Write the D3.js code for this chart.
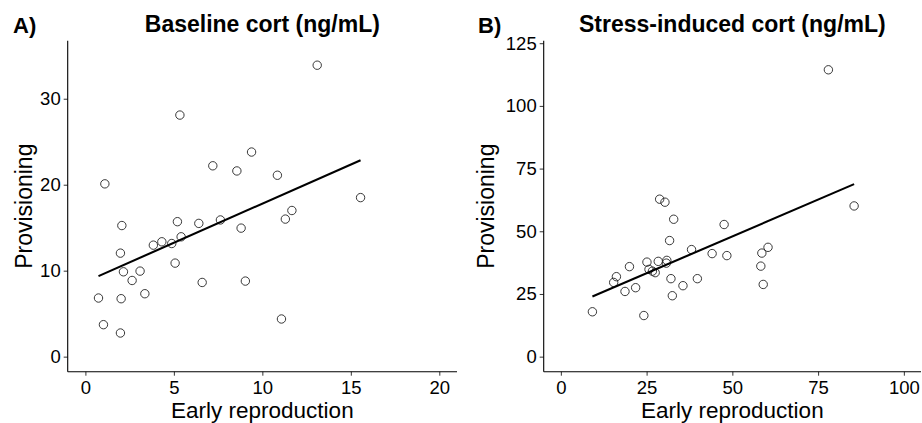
<!DOCTYPE html>
<meta charset="utf-8">
<head>
<script src="https://cdn.jsdelivr.net/npm/d3@7"></script>
<style>
body { margin: 0; background: #fff; }
svg text { font-family: "Liberation Sans", Arial, Helvetica, sans-serif; fill: #000; }
</style>
</head>
<body>
<div id="chart"></div>
<script>

// panel A: baseline cort
var baseX = [13.1, 5.34, 1.1, 7.2, 8.56, 9.39, 10.85, 15.55, 11.67, 11.3, 2.06, 5.2, 6.41, 7.63, 8.8, 5.41,
             3.84, 4.32, 4.88, 1.98, 5.07, 2.15, 3.09, 2.64, 6.6, 9.04, 0.74, 2.02, 3.36, 1.02, 1.98, 11.08];
var baseY = [33.9, 28.1, 20.1, 22.2, 21.6, 23.8, 21.1, 18.5, 17.0, 16.0, 15.25, 15.7, 15.5, 15.9, 14.95, 13.94,
             12.97, 13.36, 13.16, 12.04, 10.88, 9.87, 9.95, 8.86, 8.63, 8.79, 6.82, 6.74, 7.32, 3.72, 2.75, 4.38];
var baseFit = [[0.74, 9.37], [15.55, 22.85]];

// panel B: stress-induced cort
var stressX = [78.0, 28.8, 30.35, 85.5, 32.9, 47.6, 31.7, 38.1, 44.1, 48.4, 58.6, 60.4, 58.3, 59.0, 25.1, 28.4,
               30.9, 30.75, 20.0, 25.7, 26.7, 27.5, 16.2, 15.4, 18.7, 21.8, 32.1, 39.8, 35.6, 32.5, 9.2, 24.2];
var stressY = [114.4, 62.8, 61.6, 60.1, 54.8, 52.7, 46.3, 42.7, 41.1, 40.3, 41.3, 43.6, 36.1, 28.8, 37.7, 38.0,
               38.4, 37.3, 35.9, 34.8, 34.1, 33.5, 31.9, 29.6, 26.0, 27.5, 31.1, 31.1, 28.3, 24.3, 17.9, 16.4];
var stressFit = [[9.2, 24.0], [85.5, 68.8]];

var xTicksA = [0, 5, 10, 15, 20];
var yTicksA = [0, 10, 20, 30];
var xTicksB = [0, 25, 50, 75, 100];
var yTicksB = [0, 25, 50, 75, 100, 125];

var width = 922, height = 423;
var top_ = 40.7, bottom = 371.7;

var panels = [
  {tag: 'A)', title: 'Baseline cort (ng/mL)', xs: baseX, ys: baseY, fit: baseFit,
   xDom: [-1, 21], yDom: [-1.75, 36.75], xTicks: xTicksA, yTicks: yTicksA,
   left: 67.7, right: 457, tagX: 13, yTitleX: 31.5},
  {tag: 'B)', title: 'Stress-induced cort (ng/mL)', xs: stressX, ys: stressY, fit: stressFit,
   xDom: [-5, 105], yDom: [-6, 126], xTicks: xTicksB, yTicks: yTicksB,
   left: 543.7, right: 921, tagX: 478, yTitleX: 494.3}
];

var svg = d3.select('#chart').append('svg')
    .attr('width', width)
    .attr('height', height);

panels.forEach(function(p) {
  var x = d3.scaleLinear().domain(p.xDom).range([p.left, p.right]);
  var y = d3.scaleLinear().domain(p.yDom).range([bottom, top_]);
  var g = svg.append('g');

  // axes
  var xAxis = g.append('g')
      .attr('transform', 'translate(0,' + bottom + ')')
      .call(d3.axisBottom(x).tickValues(p.xTicks).tickSize(4).tickPadding(5).tickFormat(d3.format('d')));
  var yAxis = g.append('g')
      .attr('transform', 'translate(' + p.left + ',0)')
      .call(d3.axisLeft(y).tickValues(p.yTicks).tickSize(4).tickPadding(3).tickFormat(d3.format('d')));

  [xAxis, yAxis].forEach(function(a) {
    a.select('.domain').remove();
    a.selectAll('.tick line').attr('stroke', '#333').attr('stroke-width', 1);
    a.selectAll('.tick text').style('font-size', '18.5px').attr('fill', '#111');
  });

  g.append('line')
      .attr('x1', p.left).attr('x2', p.right)
      .attr('y1', bottom).attr('y2', bottom)
      .attr('stroke', '#000').attr('stroke-width', 1.1);
  g.append('line')
      .attr('x1', p.left).attr('x2', p.left)
      .attr('y1', top_).attr('y2', bottom)
      .attr('stroke', '#000').attr('stroke-width', 1.1);

  // points
  g.selectAll('circle.pt')
      .data(d3.range(p.xs.length))
      .enter().append('circle')
      .attr('class', 'pt')
      .attr('cx', function(i) { return x(p.xs[i]); })
      .attr('cy', function(i) { return y(p.ys[i]); })
      .attr('r', 4.2)
      .attr('fill', 'none')
      .attr('stroke', '#222')
      .attr('stroke-width', 0.9);

  // fit line
  g.append('path')
      .datum(p.fit)
      .attr('d', d3.line().x(function(d) { return x(d[0]); }).y(function(d) { return y(d[1]); }))
      .attr('stroke', '#000')
      .attr('stroke-width', 2.1)
      .attr('fill', 'none');

  // titles
  g.append('text')
      .attr('x', p.tagX).attr('y', 32.5)
      .style('font-size', '22px').style('font-weight', 'bold')
      .text(p.tag);
  g.append('text')
      .attr('x', (p.left + p.right) / 2).attr('y', 32.3)
      .attr('text-anchor', 'middle')
      .style('font-size', '23px').style('font-weight', 'bold')
      .text(p.title);
  g.append('text')
      .attr('x', (p.left + p.right) / 2).attr('y', 417.5)
      .attr('text-anchor', 'middle')
      .style('font-size', '22.5px')
      .text('Early reproduction');
  g.append('text')
      .attr('transform', 'translate(' + p.yTitleX + ',' + ((top_ + bottom) / 2) + ') rotate(-90)')
      .attr('text-anchor', 'middle')
      .style('font-size', '23px')
      .text('Provisioning');
});

</script>
</body>
